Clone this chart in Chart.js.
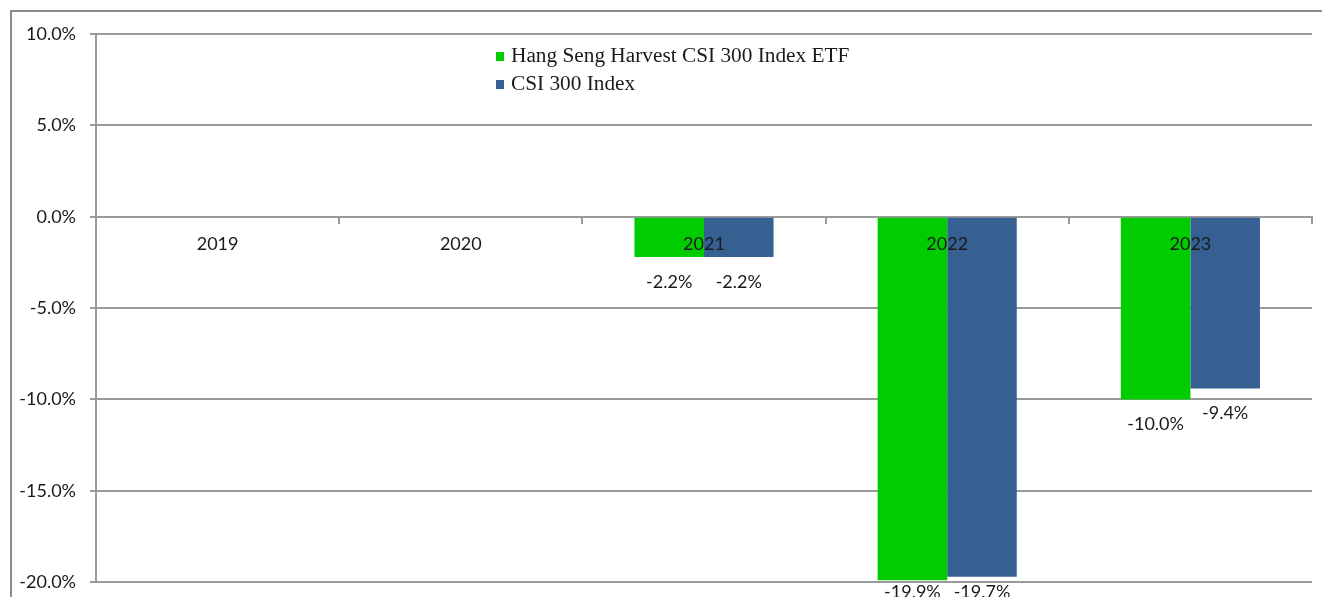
<!DOCTYPE html>
<html>
<head>
<meta charset="utf-8">
<script src="https://cdn.jsdelivr.net/npm/chart.js@4.4.1/dist/chart.umd.min.js"></script>
<style>
  html, body { margin: 0; padding: 0; background: #fff; overflow: hidden; }
  #wrap { width: 1322px; height: 597px; overflow: hidden; }
</style>
</head>
<body>
<div id="wrap"><canvas id="chart" width="1322" height="607"></canvas></div>
<script>
// ===== DATA =====
const years = ["2019", "2020", "2021", "2022", "2023"];
const etfReturns = [null, null, -2.2, -19.9, -10.0];
const indexReturns = [null, null, -2.2, -19.7, -9.4];
const seriesNames = ["Hang Seng Harvest CSI 300 Index ETF", "CSI 300 Index"];
const yTicks = [10, 5, 0, -5, -10, -15, -20];

const GREEN = "#00cc00";
const BLUE = "#366092";
const GRID = "#9a9a9a";
const TEXT = "#1a1a1a";
const SANS = "Lato, 'Open Sans', sans-serif";
const SERIF = "'Liberation Serif', 'DejaVu Serif', serif";
const VISIBLE_H = 597; // the page only shows this much of the canvas

// ===== PLUGINS =====
// frame around the whole chart
const framePlugin = {
  id: "frame",
  afterDraw(chart) {
    const ctx = chart.ctx;
    ctx.save();
    ctx.strokeStyle = "#8c8c8c";
    ctx.lineWidth = 2;
    ctx.strokeRect(11, 11, chart.width + 10, chart.height + 10);
    ctx.restore();
  }
};

// value labels just below each bar end
const valueLabels = {
  id: "valueLabels",
  afterDatasetsDraw(chart) {
    const ctx = chart.ctx;
    ctx.save();
    ctx.font = "18px " + SANS;
    ctx.fillStyle = TEXT;
    ctx.textAlign = "center";
    ctx.textBaseline = "middle";
    chart.data.datasets.forEach((ds, di) => {
      chart.getDatasetMeta(di).data.forEach((bar, i) => {
        const v = ds.data[i];
        if (v == null) return;
        const y = Math.min(bar.y + 25, VISIBLE_H - 5);
        ctx.fillText(v.toFixed(1) + "%", bar.x, y);
      });
    });
    ctx.restore();
  }
};

// legend in the upper middle, stacked
const legendBox = {
  id: "legendBox",
  afterDraw(chart) {
    const ctx = chart.ctx;
    ctx.save();
    ctx.font = "21.3px " + SERIF;
    ctx.textBaseline = "alphabetic";
    chart.data.datasets.forEach((ds, i) => {
      const base = 62 + i * 28;
      ctx.fillStyle = ds.backgroundColor;
      ctx.fillRect(496, base - 10, 8, 9);
      ctx.fillStyle = TEXT;
      ctx.fillText(ds.label, 511, base);
    });
    ctx.restore();
  }
};

// ===== CHART =====
new Chart(document.getElementById("chart"), {
  type: "bar",
  data: {
    labels: years,
    datasets: [
      { label: seriesNames[0], data: etfReturns, backgroundColor: GREEN },
      { label: seriesNames[1], data: indexReturns, backgroundColor: BLUE }
    ]
  },
  options: {
    responsive: false,
    animation: false,
    devicePixelRatio: 1,
    categoryPercentage: 0.572,
    barPercentage: 1,
    layout: { padding: { top: 34, bottom: 8, right: 10, left: 0 } },
    plugins: {
      legend: { display: false },
      tooltip: { enabled: false }
    },
    scales: {
      x: {
        position: { y: 0 },
        grid: { drawOnChartArea: false, drawTicks: true, tickLength: 6, color: GRID, lineWidth: 2 },
        border: { display: true, color: GRID, width: 2 },
        ticks: { z: 1, color: TEXT, font: { family: SANS, size: 18 }, padding: 11, maxRotation: 0 }
      },
      y: {
        min: -20,
        max: 10,
        afterFit(scale) { scale.width = 96; },
        afterBuildTicks(scale) { scale.ticks = yTicks.map(v => ({ value: v })); },
        grid: { color: GRID, lineWidth: 2, tickLength: 6 },
        border: { display: true, color: GRID, width: 2 },
        ticks: {
          color: TEXT,
          font: { family: SANS, size: 18 },
          padding: 14,
          callback: v => v.toFixed(1) + "%"
        }
      }
    }
  },
  plugins: [valueLabels, legendBox, framePlugin]
});
</script>
</body>
</html>
